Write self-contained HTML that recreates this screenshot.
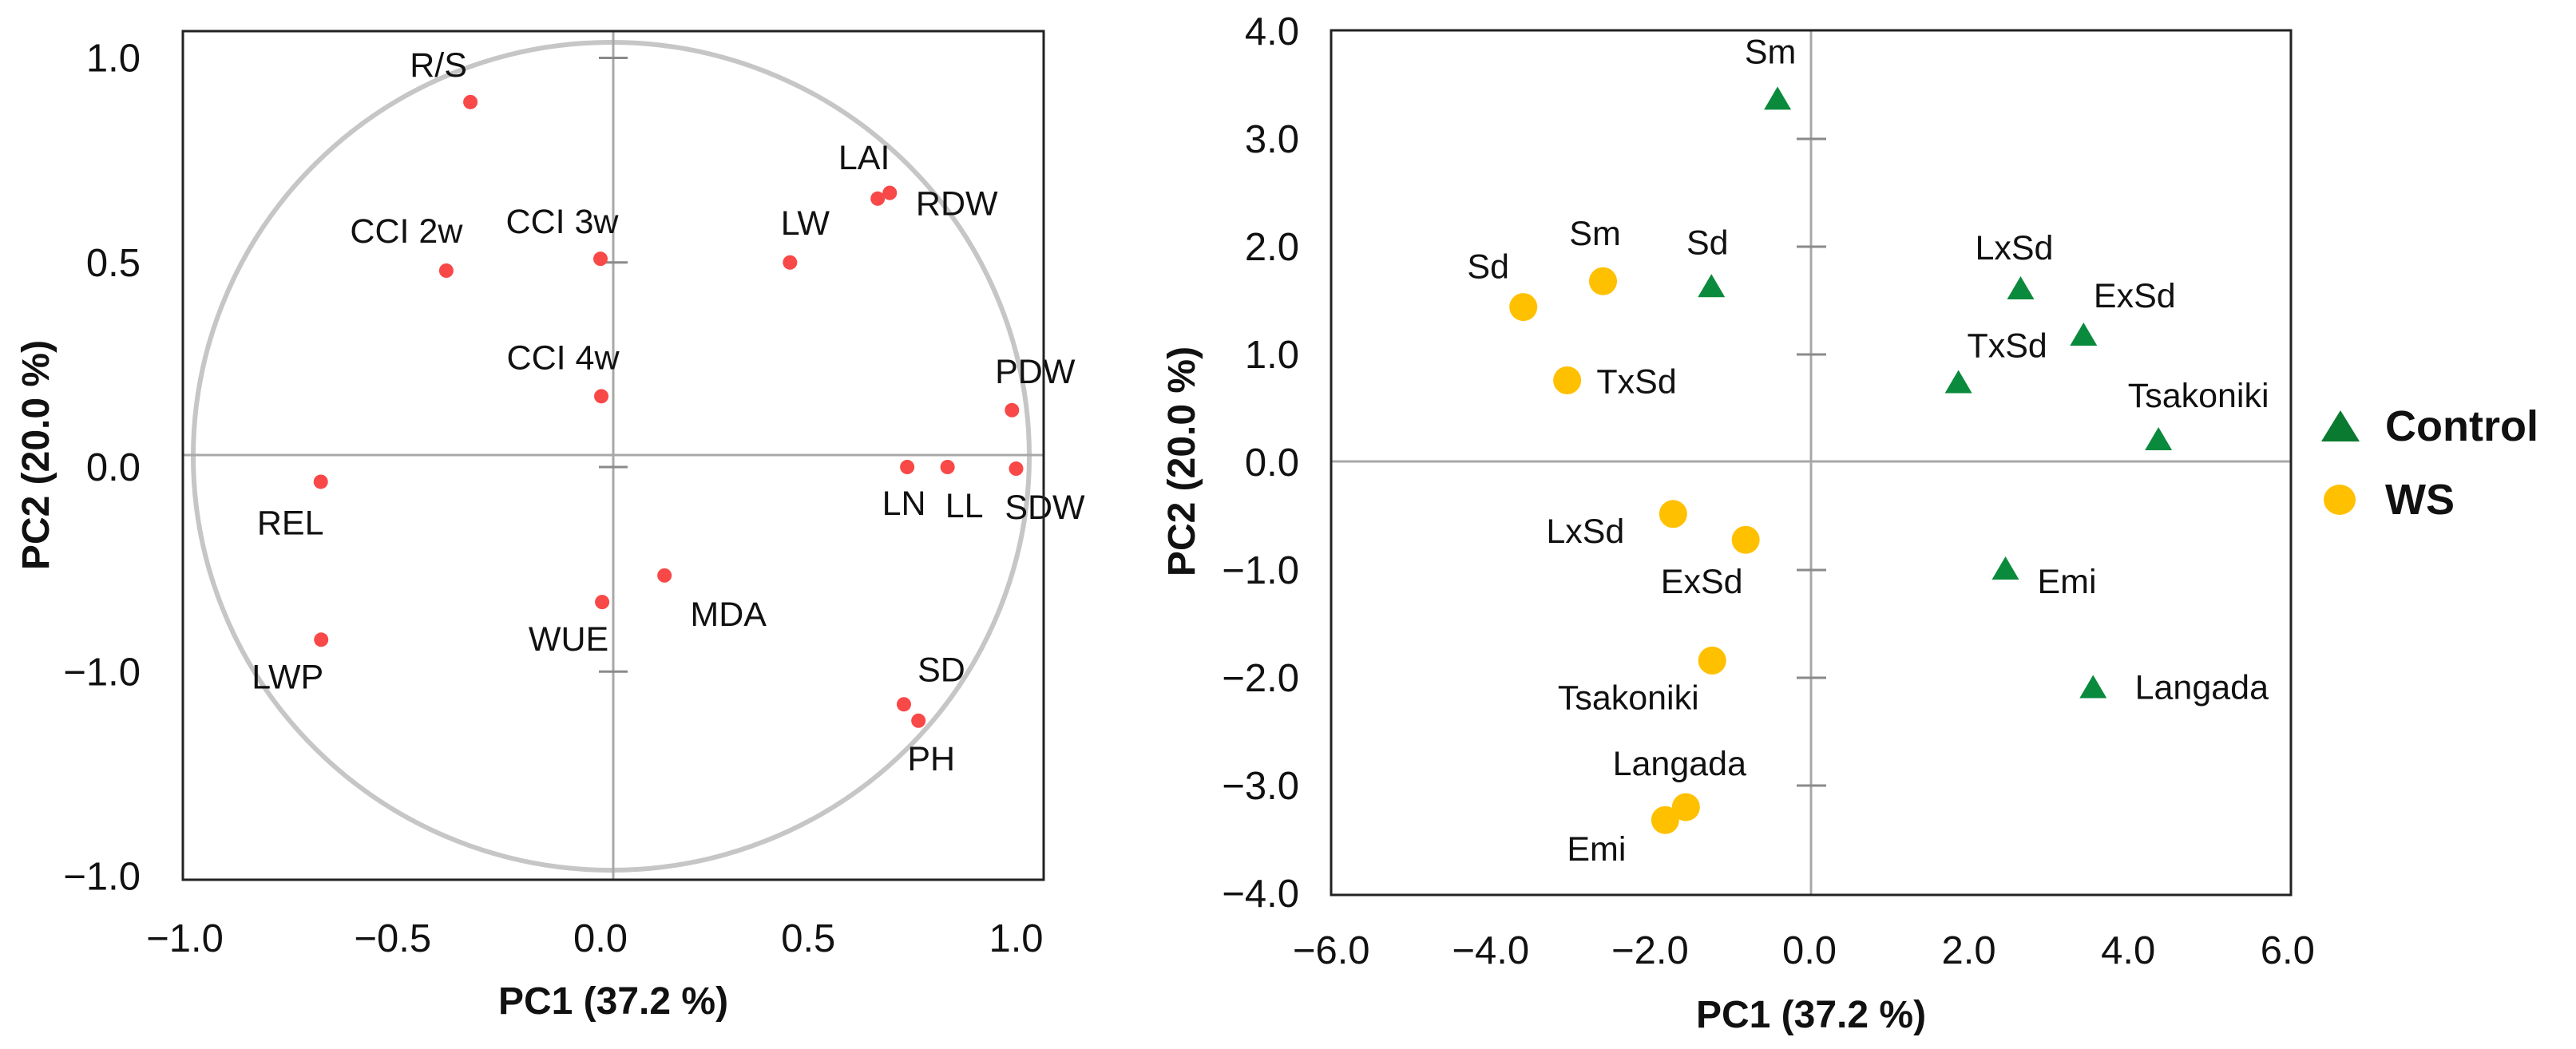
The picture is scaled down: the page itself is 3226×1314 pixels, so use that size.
<!DOCTYPE html>
<html><head><meta charset="utf-8"><style>
html,body{margin:0;padding:0;background:#fff;}
svg{display:block;font-family:"Liberation Sans",sans-serif;}
</style></head><body>
<svg id="fig" width="3226" height="1314" viewBox="0 0 3226 1314" xmlns="http://www.w3.org/2000/svg">
<g id="left"></g>
<g id="right"></g>
</svg>
<script>
// ---- Left chart: loadings ----
const loadNames = ["R/S","CCI 2w","CCI 3w","LW","LAI","RDW","CCI 4w","PDW","LN","LL","SDW","REL","MDA","WUE","LWP","SD","PH"];
const loadPC1 = [-0.313,-0.371,0.0,0.456,0.667,0.696,0.002,0.99,0.738,0.835,1.0,-0.673,0.154,0.004,-0.672,0.73,0.765];
const loadPC2 = [0.892,0.48,0.509,0.50,0.656,0.670,0.173,0.139,0.0,0.0,-0.004,-0.036,-0.265,-0.33,-0.422,-0.58,-0.62];
const leftXTicks = [-1.0,-0.5,0.0,0.5,1.0];
const leftXTickLabels = ["\u22121.0","\u22120.5","0.0","0.5","1.0"];
const leftYTicks = [1.0,0.5,0.0,-0.5,-1.0];
const leftYTickLabels = ["1.0","0.5","0.0","\u22121.0","\u22121.0"];
// ---- Right chart: scores ----
const ctrlNames = ["Sm","Sd","LxSd","ExSd","TxSd","Tsakoniki","Emi","Langada"];
const ctrlPC1 = [-0.40,-1.23,2.65,3.44,1.87,4.38,2.46,3.56];
const ctrlPC2 = [3.36,1.62,1.60,1.17,0.73,0.20,-1.0,-2.10];
const wsNames = ["Sd","Sm","TxSd","LxSd","ExSd","Tsakoniki","Langada","Emi"];
const wsPC1 = [-3.59,-2.59,-3.04,-1.71,-0.80,-1.22,-1.55,-1.81];
const wsPC2 = [1.44,1.68,0.76,-0.48,-0.72,-1.84,-3.20,-3.32];
const rightXTicks = [-6,-4,-2,0,2,4,6];
const rightXTickLabels = ["\u22126.0","\u22124.0","\u22122.0","0.0","2.0","4.0","6.0"];
const rightYTicks = [4,3,2,1,0,-1,-2,-3,-4];
const rightYTickLabels = ["4.0","3.0","2.0","1.0","0.0","\u22121.0","\u22122.0","\u22123.0","\u22124.0"];

const NS="http://www.w3.org/2000/svg";
function mk(parent,tag,attrs,text){const e=document.createElementNS(NS,tag);for(const k in attrs)e.setAttribute(k,attrs[k]);if(text!==undefined)e.textContent=text;parent.appendChild(e);return e;}

const lx = v => 752 + v*520.5;
const ly = v => 585 - v*512.5;
const rx = v => 2266 + v*99.8;
const ry = v => 579 - v*135;

const L=document.getElementById('left');
const loadLabOff = [[-40,-47],[-50,-50],[-48,-47],[19,-50],[-17,-52],[84,13],[-48,-49],[29,-49],[-4,45],[21,48],[36,48],[-38,51],[80,48],[-42,46],[-42,46],[47,-44],[16,47]];
let e;
e=mk(L,'ellipse',{cx:765.5,cy:571.5,rx:523.5,ry:518.5,fill:'none',stroke:'#c6c6c6','stroke-width':6});


e=mk(L,'line',{x1:229,x2:1307,y1:570,y2:570,stroke:'#a8a8a8','stroke-width':3});


e=mk(L,'line',{x1:768,x2:768,y1:39,y2:1102,stroke:'#a8a8a8','stroke-width':3});


leftYTicks.forEach((t,i)=>{
  if(i<4){e=mk(L,'line',{x1:750,x2:786,y1:ly(t),y2:ly(t),stroke:'#8a8a8a','stroke-width':3});
  
  }
  e=mk(L,'text',{x:176,y:ly(t)+17,'text-anchor':'end','font-size':49,fill:'#111'},leftYTickLabels[i]);
  
  
});
leftXTicks.forEach((t,i)=>{
  e=mk(L,'text',{x:lx(t),y:1192,'text-anchor':'middle','font-size':49,fill:'#111'},leftXTickLabels[i]);
  
  
});
loadNames.forEach((n,i)=>{
  const cx=lx(loadPC1[i]), cy=ly(loadPC2[i]);
  e=mk(L,'circle',{cx:cx,cy:cy,r:9,fill:'#f84848'});
  
  
  e=mk(L,'text',{x:cx+loadLabOff[i][0],y:cy+loadLabOff[i][1]+15,'text-anchor':'middle','font-size':43,fill:'#111'},n);
  
  
});
e=mk(L,'rect',{x:229,y:39,width:1078,height:1063,fill:'none',stroke:'#222','stroke-width':3});


e=mk(L,'text',{x:768,y:1270,'text-anchor':'middle','font-size':48,'font-weight':'bold',fill:'#111'},'PC1 (37.2 %)');


e=mk(L,'text',{x:0,y:0,transform:'translate(61,570) rotate(-90)','text-anchor':'middle','font-size':48,'font-weight':'bold',fill:'#111'},'PC2 (20.0 %)');



const R=document.getElementById('right');
e=mk(R,'line',{x1:1667,x2:2869,y1:578,y2:578,stroke:'#a8a8a8','stroke-width':3});


e=mk(R,'line',{x1:2268,x2:2268,y1:38,y2:1121,stroke:'#a8a8a8','stroke-width':3});


rightYTicks.forEach((t,i)=>{
  if(t!==0 && Math.abs(t)!==4){e=mk(R,'line',{x1:2250,x2:2287,y1:ry(t),y2:ry(t),stroke:'#8a8a8a','stroke-width':3});
  
  }
  e=mk(R,'text',{x:1627,y:ry(t)+17,'text-anchor':'end','font-size':49,fill:'#111'},rightYTickLabels[i]);
  
  
});
rightXTicks.forEach((t,i)=>{
  e=mk(R,'text',{x:rx(t),y:1207,'text-anchor':'middle','font-size':49,fill:'#111'},rightXTickLabels[i]);
  
  
});
const ctrlLabOff=[[-9,-61],[-5,-57],[-8,-53],[64,-51],[61,-48],[50,-57],[77,14],[136,-2]];
const wsLabOff=[[-44,-51],[-10,-60],[87,1],[-110,21],[-55,52],[-105,46],[-8,-55],[-86,36]];
function tri(cx,cy){return `${cx},${cy-17} ${cx+17},${cy+12} ${cx-17},${cy+12}`;}
ctrlNames.forEach((n,i)=>{
  const cx=rx(ctrlPC1[i]), cy=ry(ctrlPC2[i]);
  e=mk(R,'polygon',{points:tri(cx,cy),fill:'#0a8a3c'});
  
  
  e=mk(R,'text',{x:cx+ctrlLabOff[i][0],y:cy+ctrlLabOff[i][1]+15,'text-anchor':'middle','font-size':43,fill:'#111'},n);
  
  
});
wsNames.forEach((n,i)=>{
  const cx=rx(wsPC1[i]), cy=ry(wsPC2[i]);
  e=mk(R,'circle',{cx:cx,cy:cy,r:17.5,fill:'#ffc000'});
  
  
  e=mk(R,'text',{x:cx+wsLabOff[i][0],y:cy+wsLabOff[i][1]+15,'text-anchor':'middle','font-size':43,fill:'#111'},n);
  
  
});
e=mk(R,'rect',{x:1667,y:38,width:1202,height:1083,fill:'none',stroke:'#222','stroke-width':3});


e=mk(R,'text',{x:2268,y:1287,'text-anchor':'middle','font-size':48,'font-weight':'bold',fill:'#111'},'PC1 (37.2 %)');


e=mk(R,'text',{x:0,y:0,transform:'translate(1496,578) rotate(-90)','text-anchor':'middle','font-size':48,'font-weight':'bold',fill:'#111'},'PC2 (20.0 %)');


e=mk(R,'polygon',{points:'2931,514 2955,553 2907,553',fill:'#0a7a30'});


e=mk(R,'text',{x:2987,y:552,'font-size':54,'font-weight':'bold',fill:'#111'},'Control');


e=mk(R,'ellipse',{cx:2930,cy:626,rx:20,ry:19,fill:'#ffc000'});


e=mk(R,'text',{x:2987,y:644,'font-size':54,'font-weight':'bold',fill:'#111'},'WS');


</script>
</body></html>
